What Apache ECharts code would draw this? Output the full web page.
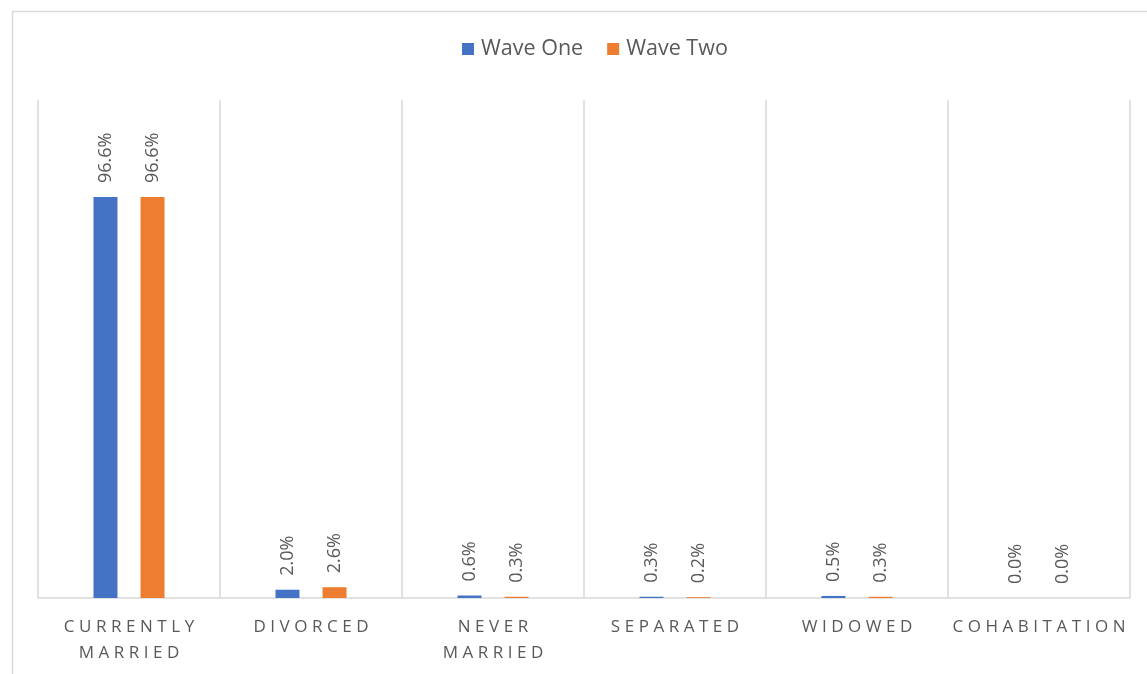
<!DOCTYPE html>
<html>
<head>
<meta charset="utf-8">
<script src="https://cdn.jsdelivr.net/npm/echarts@6/dist/echarts.min.js"></script>
<style>
  html, body { margin: 0; padding: 0; background: #fff; }
  #chart { width: 1147px; height: 674px; }
</style>
</head>
<body>
<div id="chart"></div>
<script>
// Marital status by survey wave (percent of respondents)
const categories = ['CURRENTLY\nMARRIED', 'DIVORCED', 'NEVER\nMARRIED', 'SEPARATED', 'WIDOWED', 'COHABITATION'];
const waveOne = [96.6, 2.0, 0.6, 0.3, 0.5, 0.0];
const waveTwo = [96.6, 2.6, 0.3, 0.2, 0.3, 0.0];
const seriesNames = ['Wave One', 'Wave Two'];
const colors = ['#4472C4', '#ED7D31'];

const FONT = '"Open Sans", "Liberation Sans", sans-serif';
const TEXT = '#595959';
const RULE = '#d9d9d9';

// Spread letters of the category labels apart
function spaced(s) {
  return s.split('\n').map(line => line.split('').join('\u2009\u200A')).join('\n');
}

const valueLabel = {
  show: true,
  position: 'top',
  rotate: 90,
  align: 'left',
  verticalAlign: 'middle',
  distance: 14,
  color: TEXT,
  fontFamily: FONT,
  fontSize: 18,
  formatter: p => p.value.toFixed(1) + '%'
};

const chart = echarts.init(document.getElementById('chart'));
chart.setOption({
  backgroundColor: '#fff',
  animation: false,
  graphic: [{
    type: 'rect',
    left: 10, top: 9,
    shape: { width: 1200, height: 700 },
    style: { fill: 'none', stroke: RULE, lineWidth: 1.5 },
    silent: true,
    z: -10
  }],
  legend: {
    top: 33,
    left: 457,
    itemWidth: 12,
    itemHeight: 12,
    itemGap: 24,
    icon: 'rect',
    textStyle: { color: TEXT, fontFamily: FONT, fontSize: 21.5, padding: [0, 0, 0, 2] },
    data: seriesNames
  },
  grid: { left: 38, right: 17, top: 100, bottom: 76, containLabel: false },
  xAxis: {
    type: 'category',
    data: categories,
    boundaryGap: true,
    axisLine: { lineStyle: { color: RULE, width: 1.5 } },
    axisTick: { show: false },
    splitLine: { show: true, lineStyle: { color: RULE, width: 1.5 } },
    axisLabel: {
      interval: 0,
      margin: 16,
      color: TEXT,
      fontFamily: FONT,
      fontSize: 17,
      lineHeight: 26,
      formatter: v => spaced(v)
    }
  },
  yAxis: {
    type: 'value',
    min: 0,
    max: 120,
    show: false,
    splitLine: { show: false }
  },
  series: [
    {
      name: seriesNames[0],
      type: 'bar',
      data: waveOne,
      barWidth: 24,
      barGap: '96%',
      itemStyle: { color: colors[0] },
      label: valueLabel
    },
    {
      name: seriesNames[1],
      type: 'bar',
      data: waveTwo,
      barWidth: 24,
      barGap: '96%',
      itemStyle: { color: colors[1] },
      label: valueLabel
    }
  ]
});
</script>
</body>
</html>
